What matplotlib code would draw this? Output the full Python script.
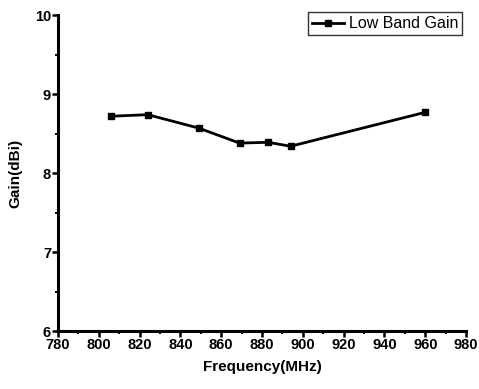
import matplotlib
matplotlib.use("Agg")
from matplotlib import pyplot as plt
from matplotlib.ticker import MultipleLocator

# data
freq = [806, 824, 849, 869, 883, 894, 960]
gain = [8.72, 8.74, 8.57, 8.38, 8.39, 8.34, 8.77]
label = "Low Band Gain"

plt.rcParams['font.family'] = ['Liberation Sans', 'DejaVu Sans']

fig = plt.figure(figsize=[4.79, 3.89], dpi=100)
ax = fig.add_axes([0.121, 0.149, 0.852, 0.812])

ax.plot(freq, gain, '-s', color='black', lw=2.0, ms=4.8, label=label)

ax.set_xlim(780, 980)
ax.set_ylim(6, 10)
ax.xaxis.set_major_locator(MultipleLocator(20))
ax.xaxis.set_minor_locator(MultipleLocator(10))
ax.yaxis.set_major_locator(MultipleLocator(1))
ax.yaxis.set_minor_locator(MultipleLocator(0.5))

for side in ['top', 'right']:
    ax.spines[side].set_visible(False)
for side in ['left', 'bottom']:
    ax.spines[side].set_linewidth(2.2)

ax.tick_params(which='major', direction='out', length=4, width=1.8, labelsize=10.5, pad=1)
ax.tick_params(which='minor', direction='out', length=2.5, width=1.4)
for t in ax.get_xticklabels() + ax.get_yticklabels():
    t.set_fontweight('bold')

ax.set_xlabel("Frequency(MHz)", fontsize=11, fontweight='bold', labelpad=6)
ax.set_ylabel("Gain(dBi)", fontsize=11, fontweight='bold', labelpad=9)

leg = ax.legend(loc='upper right', fontsize=11.5, fancybox=False, edgecolor='black',
                handlelength=2.0, handletextpad=0.3, borderpad=0.25,
                borderaxespad=0, bbox_to_anchor=(0.990, 1.0095))
leg.get_frame().set_linewidth(1.0)

fig.savefig("out.png", dpi=100)
